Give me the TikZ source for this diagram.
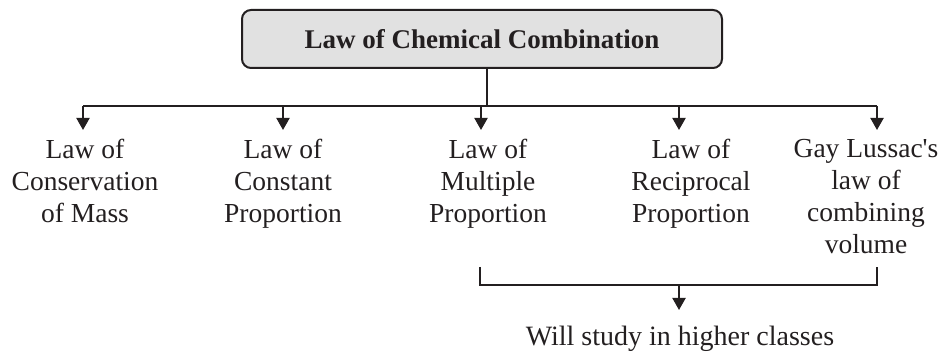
\documentclass[tikz,border=0pt]{standalone}
\usepackage{fontspec}
\setmainfont{Liberation Serif}
\newfontfamily\plainserif{Liberation Serif}
\usetikzlibrary{arrows.meta}
\definecolor{ink}{HTML}{231F20}
\definecolor{boxfill}{HTML}{E1E1E1}
\newcommand{\apos}{{\plainserif\char"0027}}
\begin{document}
\begin{tikzpicture}[x=1pt,y=-1pt,
  line/.style={draw=ink,line width=2pt},
  arr/.style={line,-{Triangle[width=13pt,length=12pt]}},
  lbl/.style={text=ink,align=center,inner sep=0pt,anchor=north,
    font=\fontsize{27.5}{32}\selectfont},
  headbox/.style={draw=ink,line width=2pt,fill=boxfill,rounded corners=9pt,
    minimum width=480pt,minimum height=58pt,text=ink,
    font=\fontsize{27}{32}\selectfont\bfseries}]
\useasboundingbox (0,0) rectangle (942,352);
\node[headbox] (top) at (482,39) {Law of Chemical Combination};
\coordinate (hub) at (487,106);
\coordinate (a1) at (83,130);
\coordinate (a2) at (283,130);
\coordinate (a3) at (481,130);
\coordinate (a4) at (679,130);
\coordinate (a5) at (877,130);
\draw[line] (top.south -| hub) -- (hub);
\draw[line] (a1 |- hub) -- (a5 |- hub);
\foreach \i in {1,...,5} \draw[arr] (a\i |- hub) -- (a\i);
\node[lbl] (n1) at (85,139) {Law of\\Conservation\\of Mass};
\node[lbl] (n2) at (283,139) {Law of\\Constant\\Proportion};
\node[lbl] (n3) at (488,139) {Law of\\Multiple\\Proportion};
\node[lbl] (n4) at (691,139) {Law of\\Reciprocal\\Proportion};
\node[lbl] (n5) at (866,139) {Gay Lussac\apos s\\law of\\combining\\volume};
\coordinate (b1) at (480,267);
\coordinate (b2) at (877,267);
\coordinate (bm) at (679,285);
\coordinate (bt) at (679,310);
\draw[line] (b1) -- (b1 |- bm) -- (b2 |- bm) -- (b2);
\draw[arr] (bm) -- (bt);
\node[lbl,font=\fontsize{28}{32}\selectfont] (w) at (680,326) {Will study in higher classes};
\end{tikzpicture}
\end{document}
